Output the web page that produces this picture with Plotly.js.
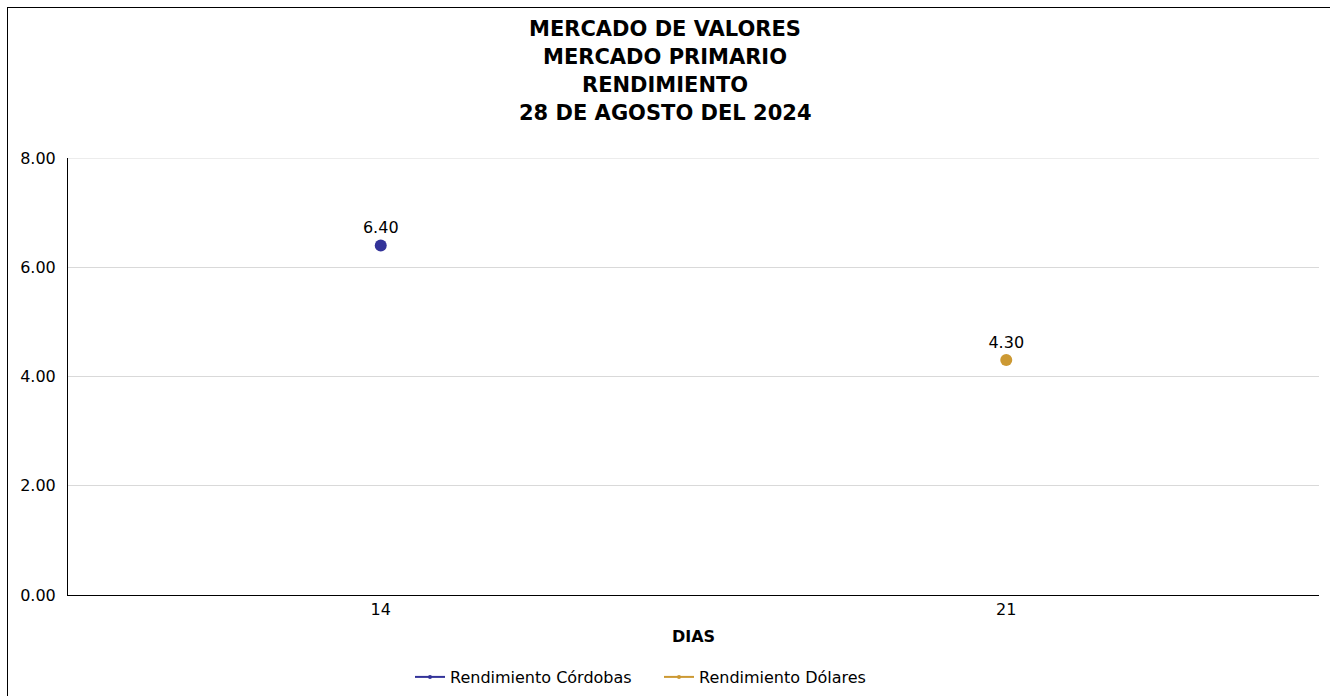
<!DOCTYPE html>
<html>
<head>
<meta charset="utf-8">
<script src="https://cdn.plot.ly/plotly-3.0.1.min.js"></script>
<style>
html,body{margin:0;padding:0;background:#fff;overflow:hidden;}
#frame{position:absolute;left:7px;top:7px;width:1400px;height:800px;border:1px solid #000;box-sizing:border-box;}
#chart{position:absolute;left:0;top:0;width:1330px;height:696px;}
</style>
</head>
<body>
<div id="frame"></div>
<div id="chart"></div>
<script>
const categories = ["14", "21"];
const seriesNames = ["Rendimiento Córdobas", "Rendimiento Dólares"];
const cordobasValues = [6.40, null];
const dolaresValues = [null, 4.30];
const yTickValues = [0, 2, 4, 6, 8];
const yTickLabels = ["0.00", "2.00", "4.00", "6.00", "8.00"];
const titleLines = ["MERCADO DE VALORES", "MERCADO PRIMARIO", "RENDIMIENTO", "28 DE AGOSTO DEL 2024"];
const colors = ["#333399", "#CC9933"];

const font = "DejaVu Sans, Verdana, sans-serif";
const fmt = v => v == null ? "" : v.toFixed(2);

const W = 1330, H = 696, L = 68, R = 11, T = 158, B = 101;
const plotH = H - T - B, plotW = W - L - R;
const toPaperY = px => (H - B - px) / plotH;
const toPaperX = px => (px - L) / plotW;

const seriesValues = [cordobasValues, dolaresValues];
const traces = [];
seriesValues.forEach((vals, i) => {
  traces.push({
    type: "scatter",
    mode: "markers+text",
    x: categories,
    y: vals,
    text: vals.map(fmt),
    textposition: "top center",
    textfont: {family: font, size: 16, color: "#000"},
    marker: {color: colors[i], size: 12},
    showlegend: false,
    hoverinfo: "skip",
    cliponaxis: false
  });
});
seriesNames.forEach((name, i) => {
  traces.push({
    type: "scatter",
    mode: "lines+markers",
    x: [null], y: [null],
    name: name,
    line: {color: colors[i], width: 2},
    marker: {color: colors[i], size: 4},
    showlegend: true
  });
});

const titleY = [28, 56, 84, 112];
const annotations = titleLines.map((t, i) => ({
  text: "<b>" + t + "</b>",
  xref: "paper", yref: "paper",
  x: toPaperX(665), xanchor: "center",
  y: toPaperY(titleY[i] + 1), yanchor: "middle",
  showarrow: false,
  font: {family: font, size: 21, color: "#000"}
}));

const yMax = yTickValues[yTickValues.length - 1];

const layout = {
  width: W, height: H,
  paper_bgcolor: "rgba(0,0,0,0)",
  plot_bgcolor: "rgba(0,0,0,0)",
  margin: {l: L, r: R, t: T, b: B, autoexpand: false},
  font: {family: font, size: 16, color: "#000"},
  annotations: annotations,
  shapes: [{
    type: "line", xref: "paper", yref: "y",
    x0: 0, x1: 1, y0: yMax, y1: yMax,
    line: {color: "#d9d9d9", width: 1},
    layer: "below"
  }],
  xaxis: {
    type: "category",
    range: [-0.5, 1.5],
    showgrid: false,
    showline: true, linecolor: "#000", linewidth: 1,
    ticks: "", tickfont: {family: font, size: 16},
    title: {text: "<b>DIAS</b>", font: {family: font, size: 16}, standoff: 12},
    fixedrange: true
  },
  yaxis: {
    range: [0, yMax],
    tickvals: yTickValues, ticktext: yTickLabels,
    showgrid: true, gridcolor: "#d9d9d9", gridwidth: 1,
    showline: true, linecolor: "#000", linewidth: 1,
    zeroline: false,
    ticks: "", ticklen: 0,
    ticklabelstandoff: 8,
    tickfont: {family: font, size: 16},
    fixedrange: true
  },
  legend: {
    orientation: "h",
    x: toPaperX(410), xanchor: "left",
    y: toPaperY(677), yanchor: "middle",
    font: {family: font, size: 16},
    entrywidth: 204, entrywidthmode: "pixels"
  },
  showlegend: true
};

Plotly.newPlot("chart", traces, layout, {displayModeBar: false, staticPlot: true});
</script>
</body>
</html>
